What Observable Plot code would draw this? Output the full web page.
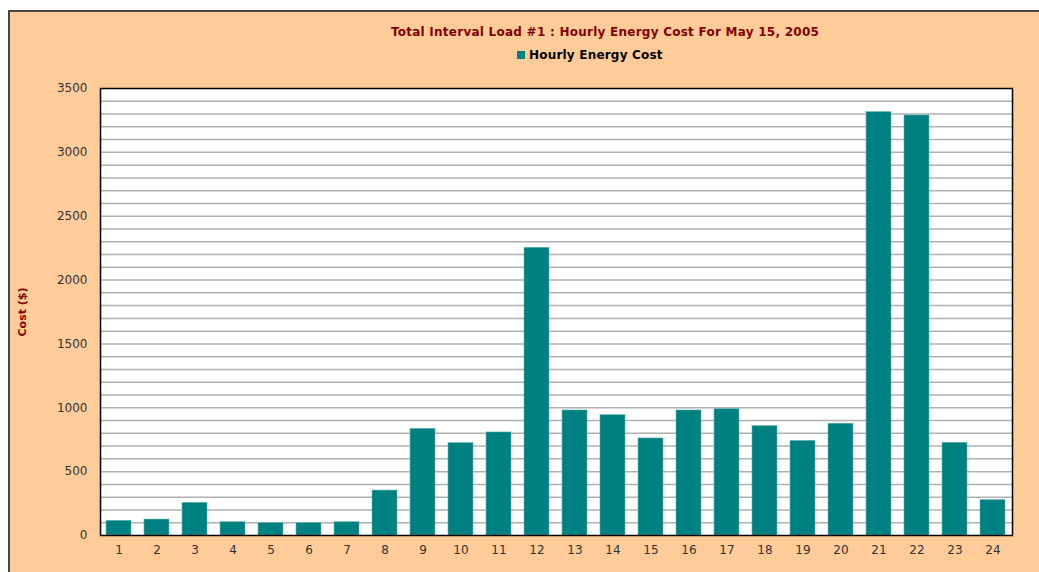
<!DOCTYPE html>
<html>
<head>
<meta charset="utf-8">
<script src="https://cdn.jsdelivr.net/npm/d3@7"></script>
<script src="https://cdn.jsdelivr.net/npm/@observablehq/plot@0.6"></script>
<style>
  html, body { margin: 0; padding: 0; background: #ffffff; width: 1039px; height: 572px; overflow: hidden; }
  #frame { position: absolute; left: 8px; top: 10px; width: 1100px; height: 600px; background: #FFCC99;
           border-left: 2px solid #444; border-top: 2px solid #444; box-sizing: border-box; }
  #title { position: absolute; left: 305px; top: 25px; width: 600px; text-align: center; letter-spacing: 0.25px;
           font: bold 12px "DejaVu Sans", Verdana, sans-serif; color: #800000; }
  #legend { position: absolute; left: 517px; top: 48px; letter-spacing: 0.2px; font: bold 12px "DejaVu Sans", Verdana, sans-serif; color: #000; }
  #legend .sw { display: inline-block; width: 8px; height: 8px; background: #008080; margin-right: 4px; vertical-align: 0px; }
  #chart { position: absolute; left: 0; top: 70px; }
</style>
</head>
<body>
<div id="frame"></div>
<div id="title"></div>
<div id="legend"><span class="sw"></span><span id="legtext"></span></div>
<div id="chart"></div>
<script>
const titleText = "Total Interval Load #1 : Hourly Energy Cost For May 15, 2005";
const seriesName = "Hourly Energy Cost";
const yLabel = "Cost ($)";
const hours = [1,2,3,4,5,6,7,8,9,10,11,12,13,14,15,16,17,18,19,20,21,22,23,24];
const costs = [115,125,256,104,96,96,104,352,835,723,807,2253,979,942,760,979,989,856,741,875,3315,3289,726,277];
const yTicks = [0,500,1000,1500,2000,2500,3000,3500];
const gridStep = 100;

document.getElementById("title").textContent = titleText;
document.getElementById("legtext").textContent = seriesName;

const data = hours.map((h, i) => ({hour: h, cost: costs[i]}));
const gridValues = d3.range(gridStep, 3500, gridStep);

const chart = Plot.plot({
  width: 1039,
  height: 502,
  marginLeft: 100,
  marginRight: 27,
  marginTop: 18,
  marginBottom: 37,
  style: {background: "transparent", fontFamily: "'DejaVu Sans', Verdana, sans-serif", fontSize: "12px", color: "#333"},
  x: {domain: hours, paddingInner: 0.34, paddingOuter: 0.13, label: null},
  y: {domain: [0, 3500], label: null},
  marks: [
    Plot.frame({fill: "#ffffff"}),
    Plot.gridY(gridValues, {stroke: "#b0b0b0", strokeOpacity: 1, strokeWidth: 1.5}),
    Plot.barY(data, {x: "hour", y: "cost", fill: "#008080", stroke: "#66b2b2", strokeWidth: 0.6}),
    Plot.axisY(yTicks, {tickSize: 0, tickPadding: 13, tickFormat: d3.format("d"), fill: "#333", style: "letter-spacing:1.5px"}),
    Plot.axisX(hours, {tickSize: 0, tickPadding: 10, fill: "#333", style: "letter-spacing:1.5px"}),
    Plot.text([yLabel], {frameAnchor: "left", rotate: -90, dx: -78, textAnchor: "middle", fill: "#800000", fontWeight: "bold", fontSize: 11}),
    Plot.frame({stroke: "#000", strokeWidth: 1.5})
  ]
});
document.getElementById("chart").appendChild(chart);
</script>
</body>
</html>
